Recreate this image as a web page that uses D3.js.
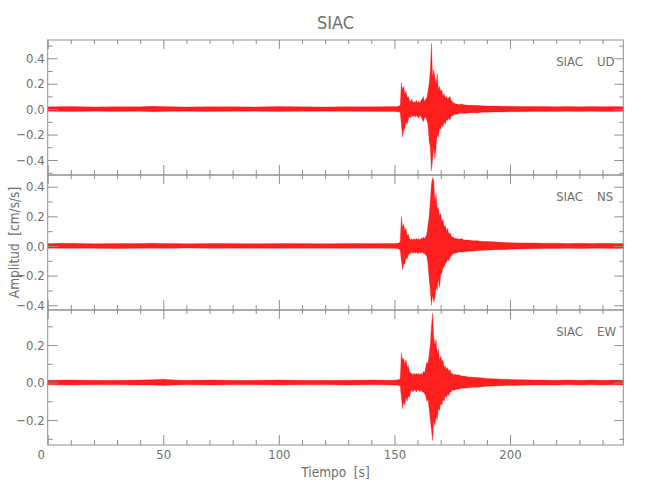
<!DOCTYPE html>
<html><head><meta charset="utf-8">
<script src="https://cdn.jsdelivr.net/npm/d3@7"></script>
<style>
body{margin:0;background:#fff}
svg text{font-family:"DejaVu Sans Condensed","DejaVu Sans","Liberation Sans Narrow",sans-serif;font-stretch:condensed;font-weight:300;fill:#707070}
</style>
</head><body>
<svg id="chart" width="650" height="500"></svg>
<script>
// ---- data ----
const title = "SIAC";
const station = "SIAC";
const components = ["UD", "NS", "EW"];
const xLabel = "Tiempo  [s]";
const yLabel = "Amplitud  [cm/s/s]";
const xDomain = [0, 249];
const xMajorTicks = [0, 50, 100, 150, 200];
const xMinorTicks = [10,20,30,40,60,70,80,90,110,120,130,140,160,170,180,190,210,220,230,240];

// time samples (s) at which the trace envelope was read
const times = [0,10,20,30,40,45,50,55,60,70,80,90,100,110,120,130,140,150,
  151,152,
  152.5,153,153.5,154,154.5,155,155.5,156,156.5,157,157.5,158,158.5,159,159.5,160,160.5,161,161.5,162,162.5,163,163.5,164,164.5,165,165.5,166,166.5,167,167.5,168,168.5,169,169.5,170,170.5,171,171.5,172,172.5,173,173.5,174,174.5,175,175.5,176,
  177,178,179,180,182,184,186,188,190,193,196,200,205,210,215,220,225,230,235,240,245,249];

// envelope maxima / minima of each component (cm/s/s)
const udHi = [0.018,0.02,0.017,0.019,0.018,0.022,0.02,0.018,0.017,0.019,0.018,0.017,0.02,0.018,0.017,0.019,0.018,0.02,
  0.02,0.025,
  0.03,0.21,0.15,0.18,0.12,0.14,0.09,0.1,0.07,0.06,0.08,0.05,0.06,0.05,0.07,0.05,0.06,0.05,0.07,0.08,0.1,0.06,0.08,0.09,0.14,0.2,0.3,0.52,0.25,0.31,0.25,0.2,0.28,0.15,0.18,0.14,0.15,0.1,0.12,0.09,0.1,0.08,0.09,0.1,0.07,0.06,0.05,0.045,
  0.04,0.035,0.04,0.035,0.03,0.03,0.028,0.027,0.025,0.025,0.022,0.022,0.02,0.02,0.02,0.019,0.02,0.018,0.02,0.019,0.02,0.018];
const udLo = [-0.017,-0.018,-0.016,-0.018,-0.017,-0.02,-0.018,-0.017,-0.016,-0.018,-0.017,-0.016,-0.018,-0.017,-0.016,-0.017,-0.018,-0.018,
  -0.02,-0.02,
  -0.03,-0.12,-0.22,-0.17,-0.15,-0.1,-0.12,-0.08,-0.06,-0.07,-0.05,-0.06,-0.05,-0.06,-0.05,-0.06,-0.07,-0.05,-0.06,-0.08,-0.1,-0.07,-0.06,-0.09,-0.12,-0.25,-0.3,-0.485,-0.4,-0.3,-0.39,-0.3,-0.2,-0.22,-0.15,-0.16,-0.12,-0.14,-0.1,-0.12,-0.08,-0.09,-0.07,-0.085,-0.06,-0.05,-0.05,-0.04,
  -0.04,-0.035,-0.03,-0.035,-0.03,-0.028,-0.03,-0.025,-0.025,-0.022,-0.022,-0.02,-0.02,-0.018,-0.018,-0.018,-0.017,-0.018,-0.017,-0.018,-0.018,-0.017];
const nsHi = [0.016,0.018,0.015,0.017,0.016,0.018,0.017,0.016,0.015,0.017,0.016,0.015,0.017,0.016,0.015,0.017,0.016,0.017,
  0.018,0.02,
  0.03,0.2,0.12,0.15,0.1,0.12,0.07,0.08,0.05,0.04,0.05,0.04,0.05,0.04,0.05,0.04,0.05,0.04,0.05,0.05,0.06,0.05,0.06,0.08,0.14,0.2,0.3,0.42,0.46,0.44,0.3,0.35,0.25,0.26,0.2,0.22,0.16,0.18,0.13,0.14,0.1,0.12,0.08,0.09,0.07,0.06,0.06,0.05,
  0.05,0.045,0.05,0.04,0.04,0.035,0.035,0.03,0.03,0.028,0.025,0.022,0.02,0.02,0.018,0.018,0.017,0.018,0.017,0.018,0.017,0.017];
const nsLo = [-0.015,-0.016,-0.015,-0.017,-0.015,-0.016,-0.016,-0.015,-0.014,-0.016,-0.015,-0.015,-0.016,-0.015,-0.015,-0.016,-0.015,-0.016,
  -0.017,-0.02,
  -0.03,-0.1,-0.16,-0.12,-0.12,-0.08,-0.09,-0.06,-0.05,-0.05,-0.04,-0.05,-0.04,-0.05,-0.04,-0.05,-0.05,-0.04,-0.05,-0.04,-0.05,-0.05,-0.06,-0.07,-0.12,-0.22,-0.3,-0.4,-0.33,-0.38,-0.35,-0.28,-0.3,-0.22,-0.28,-0.2,-0.18,-0.15,-0.14,-0.12,-0.11,-0.09,-0.1,-0.08,-0.07,-0.06,-0.05,-0.05,
  -0.045,-0.04,-0.04,-0.04,-0.035,-0.035,-0.03,-0.03,-0.028,-0.025,-0.025,-0.022,-0.02,-0.018,-0.017,-0.017,-0.016,-0.017,-0.016,-0.016,-0.017,-0.016];
const ewHi = [0.013,0.014,0.012,0.013,0.014,0.015,0.018,0.014,0.013,0.014,0.013,0.012,0.014,0.013,0.012,0.013,0.014,0.013,
  0.014,0.016,
  0.02,0.16,0.12,0.13,0.1,0.12,0.08,0.09,0.06,0.05,0.05,0.04,0.05,0.04,0.05,0.04,0.05,0.04,0.05,0.04,0.06,0.05,0.08,0.11,0.1,0.15,0.2,0.3,0.37,0.24,0.2,0.23,0.15,0.18,0.12,0.14,0.11,0.12,0.08,0.09,0.07,0.08,0.06,0.07,0.05,0.05,0.04,0.045,
  0.04,0.04,0.035,0.035,0.03,0.028,0.027,0.025,0.022,0.02,0.018,0.017,0.015,0.014,0.014,0.013,0.014,0.013,0.014,0.013,0.014,0.013];
const ewLo = [-0.012,-0.013,-0.012,-0.012,-0.013,-0.013,-0.015,-0.013,-0.012,-0.013,-0.012,-0.012,-0.013,-0.012,-0.012,-0.013,-0.012,-0.013,
  -0.013,-0.015,
  -0.02,-0.08,-0.14,-0.1,-0.12,-0.08,-0.1,-0.07,-0.08,-0.05,-0.04,-0.05,-0.04,-0.04,-0.05,-0.04,-0.04,-0.05,-0.04,-0.05,-0.05,-0.06,-0.07,-0.1,-0.09,-0.14,-0.2,-0.25,-0.31,-0.2,-0.23,-0.18,-0.2,-0.14,-0.15,-0.11,-0.12,-0.09,-0.1,-0.07,-0.08,-0.06,-0.07,-0.05,-0.05,-0.04,-0.04,-0.04,
  -0.035,-0.035,-0.03,-0.03,-0.028,-0.025,-0.025,-0.022,-0.02,-0.018,-0.017,-0.015,-0.014,-0.013,-0.013,-0.013,-0.012,-0.013,-0.012,-0.013,-0.012,-0.013];

// y ranges and ticks of each panel
const udDomain = [-0.518, 0.544];
const nsDomain = [-0.432, 0.479];
const ewDomain = [-0.333, 0.387];
const udMajor = [-0.4,-0.2,0,0.2,0.4], udMinor = [-0.5,-0.3,-0.1,0.1,0.3,0.5];
const nsMajor = [-0.4,-0.2,0,0.2,0.4], nsMinor = [-0.3,-0.1,0.1,0.3];
const ewMajor = [-0.2,0,0.2], ewMinor = [-0.3,-0.1,0.1,0.3];

// ---- drawing ----
const svg = d3.select("#chart");
const left = 47.7, right = 623.3;
const tops = [40, 175, 310], ph = 135;
const axisColor = "#8f8f8f";
const x = d3.scaleLinear().domain(xDomain).range([left, right]);

const panels = [
  {comp: components[0], hi: udHi, lo: udLo, dom: udDomain, major: udMajor, minor: udMinor},
  {comp: components[1], hi: nsHi, lo: nsLo, dom: nsDomain, major: nsMajor, minor: nsMinor},
  {comp: components[2], hi: ewHi, lo: ewLo, dom: ewDomain, major: ewMajor, minor: ewMinor}
];

function styleAxis(g){
  g.select(".domain").remove();
  g.selectAll("line").attr("stroke", axisColor).attr("stroke-width", 1);
  g.selectAll("text").attr("fill", "#707070").style("font-size", "13px")
    .attr("font-family", null);
}

panels.forEach((p, i) => {
  const top = tops[i], bot = top + ph;
  const y = d3.scaleLinear().domain(p.dom).range([bot, top]);
  const data = times.map((t, j) => ({t, hi: p.hi[j], lo: p.lo[j]}));

  // trace envelope
  svg.append("path").datum(data)
    .attr("d", d3.area().x(d => x(d.t)).y0(d => y(d.lo)).y1(d => y(d.hi)))
    .attr("fill", "#ff0000").attr("fill-opacity", 0.88)
    .attr("stroke", "#ff0000").attr("stroke-width", 0.5).attr("stroke-opacity", 0.6);

  // frame
  svg.append("rect").attr("x", left).attr("y", top).attr("width", right - left).attr("height", ph)
    .attr("fill", "none").attr("stroke", axisColor).attr("stroke-width", 1);

  // y axes
  svg.append("g").attr("transform", `translate(${left},0)`)
    .call(d3.axisLeft(y).tickValues(p.major).tickSize(-10).tickPadding(3).tickFormat(d3.format(".1f"))).call(styleAxis);
  svg.append("g").attr("transform", `translate(${left},0)`)
    .call(d3.axisLeft(y).tickValues(p.minor.filter(v => v >= p.dom[0] && v <= p.dom[1])).tickSize(-5).tickFormat("")).call(styleAxis);
  svg.append("g").attr("transform", `translate(${right},0)`)
    .call(d3.axisRight(y).tickValues(p.major).tickSize(-9).tickFormat("")).call(styleAxis);
  svg.append("g").attr("transform", `translate(${right},0)`)
    .call(d3.axisRight(y).tickValues(p.minor.filter(v => v >= p.dom[0] && v <= p.dom[1])).tickSize(-4).tickFormat("")).call(styleAxis);

  // x axes (top and bottom of each panel)
  svg.append("g").attr("transform", `translate(0,${top})`)
    .call(d3.axisTop(x).tickValues(xMajorTicks).tickSize(-9).tickFormat("")).call(styleAxis);
  svg.append("g").attr("transform", `translate(0,${top})`)
    .call(d3.axisTop(x).tickValues(xMinorTicks).tickSize(-4).tickFormat("")).call(styleAxis);
  const last = i === panels.length - 1;
  const bx = svg.append("g").attr("transform", `translate(0,${bot})`)
    .call(d3.axisBottom(x).tickValues(xMajorTicks).tickSize(-10).tickPadding(5)
      .tickFormat(last ? d3.format("d") : "")).call(styleAxis);
  if (last) bx.selectAll(".tick text").filter(d => d === 0).attr("dx", -7);
  svg.append("g").attr("transform", `translate(0,${bot})`)
    .call(d3.axisBottom(x).tickValues(xMinorTicks).tickSize(-5).tickFormat("")).call(styleAxis);

  // station / component label
  svg.append("text").attr("x", 583).attr("y", top + 26).attr("text-anchor", "end")
    .style("font-size", "13px").text(station);
  svg.append("text").attr("x", 597).attr("y", top + 26).attr("text-anchor", "start")
    .style("font-size", "13px").text(p.comp);
});

// titles
svg.append("text").attr("x", (left + right) / 2).attr("y", 29).attr("text-anchor", "middle")
  .style("font-size", "18px").text(title);
svg.append("text").attr("x", (left + right) / 2).attr("y", 477).attr("text-anchor", "middle")
  .style("font-size", "13.5px").style("white-space", "pre").text(xLabel);
svg.append("text").attr("transform", `translate(19,${(tops[0] + tops[2] + ph) / 2}) rotate(-90)`)
  .attr("text-anchor", "middle").style("font-size", "13.5px").style("white-space", "pre").text(yLabel);
</script>
</body></html>
